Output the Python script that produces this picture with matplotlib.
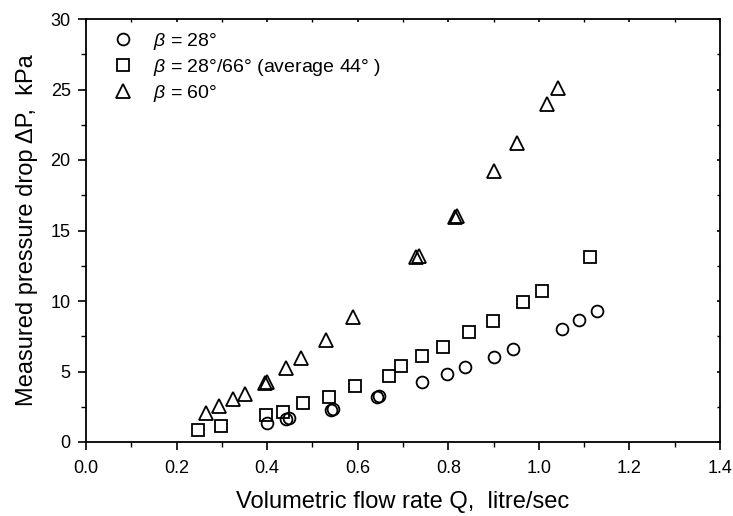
import matplotlib
matplotlib.use("Agg")
import matplotlib.pyplot as plt
from matplotlib.ticker import MultipleLocator

plt.rcParams['font.family'] = ['Liberation Sans', 'DejaVu Sans']
plt.rcParams['mathtext.fontset'] = 'custom'
plt.rcParams['mathtext.it'] = 'Liberation Sans:italic'
plt.rcParams['mathtext.rm'] = 'Liberation Sans'

# beta = 28 deg
q_28 = [0.400, 0.442, 0.449, 0.540, 0.545, 0.643, 0.648, 0.741, 0.797,
        0.838, 0.901, 0.944, 1.052, 1.088, 1.128]
dp_28 = [1.32, 1.60, 1.72, 2.30, 2.36, 3.22, 3.26, 4.23, 4.85,
         5.32, 6.03, 6.57, 8.01, 8.65, 9.29]

# beta = 28/66 deg (mixed)
q_mix = [0.248, 0.298, 0.397, 0.434, 0.480, 0.537, 0.594, 0.670, 0.696,
         0.741, 0.788, 0.846, 0.899, 0.964, 1.008, 1.113]
dp_mix = [0.85, 1.13, 1.90, 2.10, 2.74, 3.17, 3.97, 4.70, 5.41,
          6.10, 6.76, 7.80, 8.60, 9.93, 10.70, 13.10]

# beta = 60 deg
q_60 = [0.265, 0.294, 0.325, 0.350, 0.395, 0.400, 0.441, 0.475, 0.529,
        0.590, 0.729, 0.736, 0.815, 0.819, 0.901, 0.951, 1.017, 1.043]
dp_60 = [2.08, 2.55, 3.03, 3.40, 4.20, 4.28, 5.22, 5.96, 7.23,
         8.87, 13.10, 13.20, 15.95, 16.05, 19.24, 21.20, 23.95, 25.08]

labels = [r'$\beta$ = 28°', r'$\beta$ = 28°/66° (average 44° )', r'$\beta$ = 60°']

fig = plt.figure(figsize=(7.33, 5.16), dpi=100)
ax = fig.add_axes([86 / 733, 1 - 442 / 516, 634 / 733, 423 / 516])

mk = dict(linestyle='none', markerfacecolor='none', markeredgecolor='black',
          markeredgewidth=1.3)
ax.plot(q_28, dp_28, marker='o', markersize=8.5, label=labels[0], **mk)
ax.plot(q_mix, dp_mix, marker='s', markersize=8, label=labels[1], **mk)
ax.plot(q_60, dp_60, marker='^', markersize=9.5, label=labels[2], **mk)

ax.set_xlim(0, 1.4)
ax.set_ylim(0, 30)
ax.xaxis.set_major_locator(MultipleLocator(0.2))
ax.xaxis.set_minor_locator(MultipleLocator(0.1))
ax.yaxis.set_major_locator(MultipleLocator(5))
ax.yaxis.set_minor_locator(MultipleLocator(2.5))
ax.xaxis.set_major_formatter(plt.FormatStrFormatter('%.1f'))

ax.tick_params(which='major', direction='out', length=6, width=1.2,
               labelsize=13)
ax.tick_params(axis='x', which='major', pad=7)
ax.tick_params(axis='y', which='major', pad=5)
ax.tick_params(which='minor', direction='out', length=3.5, width=1.0)
for s in ax.spines.values():
    s.set_linewidth(1.3)

# small inward ticks along top and right
ax.tick_params(which='both', top=True, right=True)
ax.tick_params(which='both', axis='x', labeltop=False)
ax.tick_params(which='both', axis='y', labelright=False)
for t in ax.xaxis.get_major_ticks() + ax.xaxis.get_minor_ticks():
    t.tick2line.set_markersize(2)
    t.tick2line.set_marker(3)
for t in ax.yaxis.get_major_ticks() + ax.yaxis.get_minor_ticks():
    t.tick2line.set_markersize(2)
    t.tick2line.set_marker(0)

ax.set_xlabel('Volumetric flow rate Q,  litre/sec', fontsize=17, labelpad=10)
ax.set_ylabel('Measured pressure drop ΔP,  kPa', fontsize=17, labelpad=9)

ax.legend(loc='upper left', frameon=False, fontsize=14, handlelength=1.0,
          handletextpad=1.05, borderaxespad=0, labelspacing=0.25,
          bbox_to_anchor=(0.030, 0.99))

fig.savefig('out.png', dpi=100)
